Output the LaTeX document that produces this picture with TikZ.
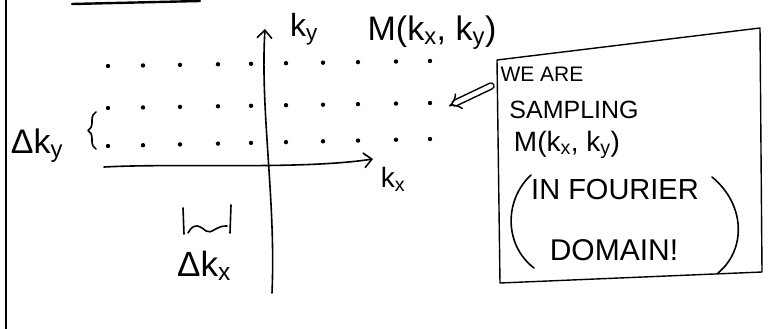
\documentclass[tikz,border=0pt]{standalone}
\usepackage{fontspec}
\setmainfont{Liberation Sans}
\usetikzlibrary{arrows.meta,decorations.pathreplacing}
\newcommand{\fsz}[1]{\fontsize{#1}{#1}\selectfont}
\begin{document}
\begin{tikzpicture}[x=1pt,y=-1pt,
  pen/.style={line width=1.6pt,line cap=round,line join=round},
  axis/.style={pen,-{Straight Barb[length=8pt,width=15pt,line width=1.6pt]}},
  lbl/.style={inner sep=0pt,text=black},
  samp/.style={circle,fill=black,inner sep=0pt,minimum size=4.4pt}]
\useasboundingbox (0,0) rectangle (768,329);

% page margin rule and header stroke
\draw[pen,line width=2pt] (6,0) -- (6,329);
\draw[pen,line width=2.4pt] (72,4) -- (200,1);

% frequency axes
\coordinate (kyS) at (272,293);
\coordinate (kyE) at (265,29);
\coordinate (kxS) at (104,167);
\coordinate (kxE) at (373,159);
\draw[axis] (kyS) .. controls (276,200) and (260,110) .. (kyE);
\draw[axis] (kxS) .. controls (180,163) and (300,170) .. (kxE);

\node[lbl,font=\fsz{32}] (ky) at (304,29) {k\textsubscript{y}};
\node[lbl,font=\fsz{34}] (Mtop) at (432,33) {M(k\textsubscript{x}, k\textsubscript{y})};
\node[lbl,font=\fsz{28}] (kx) at (393,179) {k\textsubscript{x}};

% sampling grid
\foreach \r/\yl/\yr in {1/66/61, 2/108/103, 3/146/139}{
  \foreach \c/\x in {1/108,2/143,3/180,4/218,5/251,6/286,7/323,8/358,9/396,10/430}{
    \pgfmathsetmacro{\yy}{\yl+(\yr-\yl)*(\x-108)/322}
    \node[samp] (s\r-\c) at (\x,\yy) {};
  }
}

% spacing along k_y
\coordinate (bB) at (96,149);
\coordinate (bT) at (96,112);
\draw[pen,line width=1.6pt,decorate,decoration={brace,amplitude=8pt}] (bB) -- (bT);
\node[lbl,font=\fsz{34}] (dky) at (37,146) {Δk\textsubscript{y}};

% spacing along k_x
\coordinate (wL1) at (183,208);
\coordinate (wL2) at (184,234);
\coordinate (wR1) at (231,205);
\coordinate (wR2) at (230,233);
\draw[pen] (wL1) -- (wL2);
\draw[pen] (wR1) -- (wR2);
\draw[pen] (188,233) .. controls (194,222) and (200,226) .. (206,231)
               .. controls (211,235) and (217,225) .. (227,226);
\node[lbl,font=\fsz{35}] (dkx) at (204,266) {Δk\textsubscript{x}};

% note box
\coordinate (b1) at (497,60);
\coordinate (b2) at (760,28);
\coordinate (b3) at (762,272);
\coordinate (b4) at (500,283);
\draw[pen,line width=1.4pt] (b1) -- (b2) -- (b3) -- (b4) -- cycle;

\coordinate (arS) at (491,86);
\coordinate (arE) at (449,106);
\draw[pen,line width=1.5pt,double,double distance=4.5pt,-{Implies}] (arS) -- (arE);

\node[lbl,font=\fsz{21}] (t1) at (542,74) {WE ARE};
\node[lbl,font=\fsz{25}] (t2) at (574,110) {SAMPLING};
\node[lbl,font=\fsz{28}] (t3) at (567,145) {M(k\textsubscript{x}, k\textsubscript{y})};
\node[lbl,font=\fsz{29}] (t4) at (615,190) {IN FOURIER};
\node[lbl,font=\fsz{30}] (t5) at (614,250) {DOMAIN!};
\draw[pen] (531,175) .. controls (504,200) and (504,245) .. (534,268);
\draw[pen] (712,177) .. controls (746,205) and (746,250) .. (718,273);
\end{tikzpicture}
\end{document}
